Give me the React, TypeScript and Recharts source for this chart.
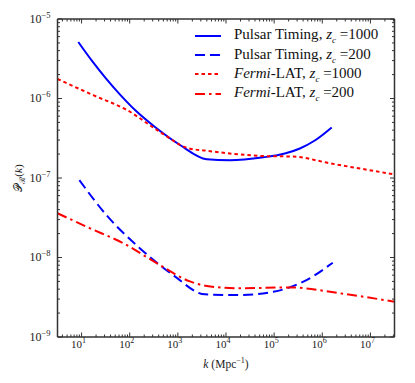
import React from "react"
import { LineChart, Line, XAxis, YAxis, Label } from "recharts"

// Pulsar Timing, z_c = 1000
const kPt1000 = [8.55, 16.5, 32, 63, 129, 335, 1110, 3970, 11900, 59600, 167000, 342000, 699000, 1570000]
const pPt1000 = [5.14e-6, 2.97e-6, 1.79e-6, 1.12e-6, 7.16e-7, 4.38e-7, 2.6e-7, 1.72e-7, 1.67e-7, 1.82e-7, 2.03e-7, 2.35e-7, 2.96e-7, 4.32e-7]

// Pulsar Timing, z_c = 200
const kPt200 = [9, 33, 164, 800, 3660, 19500, 96000, 470000, 1650000]
const pPt200 = [9.4e-8, 3.4e-8, 1.3e-8, 6.0e-9, 3.44e-9, 3.37e-9, 3.7e-9, 5.2e-9, 8.6e-9]

// Fermi-LAT, z_c = 1000
const kFermi1000 = [3.16, 17.5, 86, 425, 1650, 4000, 60000, 250000, 1450000, 31600000]
const pFermi1000 = [1.76e-6, 1.1e-6, 7.2e-7, 3.8e-7, 2.37e-7, 2.2e-7, 1.89e-7, 1.86e-7, 1.53e-7, 1.11e-7]

// Fermi-LAT, z_c = 200
const kFermi200 = [3.16, 15, 73.6, 363, 1780, 4000, 19500, 210000, 2300000, 31600000]
const pFermi200 = [3.6e-8, 2.33e-8, 1.51e-8, 8.5e-9, 5.0e-9, 4.38e-9, 4.1e-9, 4.2e-9, 3.55e-9, 2.78e-9]

const xMajorExps = [1, 2, 3, 4, 5, 6, 7]
const yMajorExps = [-9, -8, -7, -6, -5]
const minorMults = [2, 3, 4, 5, 6, 7, 8, 9]

const X_DOMAIN = [Math.pow(10, 0.5), Math.pow(10, 7.5)]
const Y_DOMAIN = [1e-9, 1e-5]

const toRows = (ks: number[], ps: number[]) => ks.map((k, i) => ({ k, p: ps[i] }))

const series = [
  { id: "pt1000", label: "Pulsar Timing", italic: false, zc: "1000", color: "#0000ff", dash: undefined, data: toRows(kPt1000, pPt1000) },
  { id: "pt200", label: "Pulsar Timing", italic: false, zc: "200", color: "#0000ff", dash: "10 5", data: toRows(kPt200, pPt200) },
  { id: "f1000", label: "Fermi", italic: true, zc: "1000", color: "#ff0000", dash: "3.5 3", data: toRows(kFermi1000, pFermi1000) },
  { id: "f200", label: "Fermi", italic: true, zc: "200", color: "#ff0000", dash: "10 4 2.5 4", data: toRows(kFermi200, pFermi200) },
]

const tickValues = (lo: number, hi: number, exps: number[]) => {
  const out: number[] = []
  for (let e = exps[0] - 1; e <= exps[exps.length - 1]; e++) {
    out.push(Math.pow(10, e))
    minorMults.forEach((m) => out.push(m * Math.pow(10, e)))
  }
  return out.filter((v) => v >= lo * 0.999 && v <= hi * 1.001)
}

const xTicks = tickValues(X_DOMAIN[0], X_DOMAIN[1], xMajorExps)
const yTicks = tickValues(Y_DOMAIN[0], Y_DOMAIN[1], yMajorExps)

const SERIF = "'Liberation Serif', 'DejaVu Serif', serif"
const FRAME = "#333"

const isMajor = (v: number) => Math.abs(Math.log10(v) - Math.round(Math.log10(v))) < 1e-6
const expOf = (v: number) => {
  const e = Math.round(Math.log10(v))
  return e < 0 ? `\u2212${-e}` : `${e}`
}

function XTick(props: any) {
  const { x, y, payload, side } = props
  const major = isMajor(payload.value)
  const len = major ? 4.5 : 2.5
  const dir = side === "bottom" ? -1 : 1
  return (
    <g>
      <line x1={x} y1={y} x2={x} y2={y + dir * len} stroke={FRAME} strokeWidth={1} />
      {major && side === "bottom" && (
        <text x={x - 10.5} y={y + 10.5} fontFamily={SERIF} fontSize={11} fill="#222">
          10
          <tspan dy={-4.5} fontSize={8}>{expOf(payload.value)}</tspan>
        </text>
      )}
    </g>
  )
}

function YTick(props: any) {
  const { x, y, payload, side } = props
  const major = isMajor(payload.value)
  const len = major ? 4.5 : 2.5
  const dir = side === "left" ? 1 : -1
  return (
    <g>
      <line x1={x} y1={y} x2={x + dir * len} y2={y} stroke={FRAME} strokeWidth={1} />
      {major && side === "left" && (
        <text x={x - 7} y={y + 3.5} textAnchor="end" fontFamily={SERIF} fontSize={12} fill="#222">
          10
          <tspan dy={-5} fontSize={8.5}>{expOf(payload.value)}</tspan>
        </text>
      )}
    </g>
  )
}

function XTitle(props: any) {
  const { x, y, width } = props.viewBox
  return (
    <text x={x + width / 2} y={y + 30.5} textAnchor="middle" fontFamily={SERIF} fontSize={11.5} fill="#222">
      <tspan fontStyle="italic">k</tspan>
      <tspan> (Mpc</tspan>
      <tspan dy={-4.5} fontSize={8}>{"\u22121"}</tspan>
      <tspan dy={4.5}>)</tspan>
    </text>
  )
}

function YTitle(props: any) {
  const { y, height } = props.viewBox
  const cx = 22
  const cy = y + height / 2
  return (
    <text x={cx} y={cy} transform={`rotate(-90 ${cx} ${cy})`} textAnchor="middle" fontFamily={SERIF} fontSize={11} fill="#222">
      {"\u{1D4AB}"}
      <tspan dy={3} fontSize={8}>{"\u211B"}</tspan>
      <tspan dy={-3}>(</tspan>
      <tspan fontStyle="italic">k</tspan>
      <tspan>)</tspan>
    </text>
  )
}

function LegendBox() {
  return (
    <div style={{ position: "absolute", left: 195, top: 26, fontFamily: SERIF, fontSize: 15, color: "#111" }}>
      {series.map((s) => (
        <div key={s.id} style={{ display: "flex", alignItems: "center", height: 19.4 }}>
          <svg width={26} height={6} style={{ marginRight: 13 }}>
            <line x1={0} y1={3} x2={26} y2={3} stroke={s.color} strokeWidth={2} strokeDasharray={s.dash} />
          </svg>
          <span style={{ whiteSpace: "nowrap" }}>
            {s.italic ? (
              <>
                <i>{s.label}</i>-LAT
              </>
            ) : (
              s.label
            )}
            {", "}
            <i>z</i>
            <sub style={{ fontSize: 9, fontStyle: "italic" }}>c</sub>
            {" =" + s.zc}
          </span>
        </div>
      ))}
    </div>
  )
}

export default function App() {
  return (
    <div style={{ position: "absolute", left: 0, top: 0, width: 415, height: 383, background: "#fff" }}>
      <LineChart width={415} height={383} margin={{ top: 0, right: 0, bottom: 0, left: 0 }}>
        <XAxis
          xAxisId="b"
          type="number"
          dataKey="k"
          scale="log"
          domain={X_DOMAIN}
          allowDataOverflow
          ticks={xTicks}
          interval={0}
          tickSize={0}
          tickMargin={0}
          tickLine={false}
          height={46}
          axisLine={{ stroke: FRAME, strokeWidth: 1.5 }}
          tick={<XTick side="bottom" />}
        >
          <Label content={<XTitle />} />
        </XAxis>
        <XAxis
          xAxisId="t"
          orientation="top"
          type="number"
          dataKey="k"
          scale="log"
          domain={X_DOMAIN}
          allowDataOverflow
          ticks={xTicks}
          interval={0}
          tickSize={0}
          tickMargin={0}
          tickLine={false}
          height={19}
          axisLine={{ stroke: FRAME, strokeWidth: 1.5 }}
          tick={<XTick side="top" />}
        />
        <YAxis
          yAxisId="l"
          type="number"
          dataKey="p"
          scale="log"
          domain={Y_DOMAIN}
          allowDataOverflow
          ticks={yTicks}
          interval={0}
          tickSize={0}
          tickMargin={0}
          tickLine={false}
          width={57.5}
          axisLine={{ stroke: FRAME, strokeWidth: 1.5 }}
          tick={<YTick side="left" />}
        >
          <Label content={<YTitle />} />
        </YAxis>
        <YAxis
          yAxisId="r"
          orientation="right"
          type="number"
          dataKey="p"
          scale="log"
          domain={Y_DOMAIN}
          allowDataOverflow
          ticks={yTicks}
          interval={0}
          tickSize={0}
          tickMargin={0}
          tickLine={false}
          width={20.5}
          axisLine={{ stroke: FRAME, strokeWidth: 1.5 }}
          tick={<YTick side="right" />}
        />
        {series.map((s) => (
          <Line
            key={s.id}
            xAxisId="b"
            yAxisId="l"
            data={s.data}
            dataKey="p"
            type="monotone"
            stroke={s.color}
            strokeWidth={2}
            strokeDasharray={s.dash}
            dot={false}
            activeDot={false}
            isAnimationActive={false}
          />
        ))}
      </LineChart>
      <LegendBox />
    </div>
  )
}
